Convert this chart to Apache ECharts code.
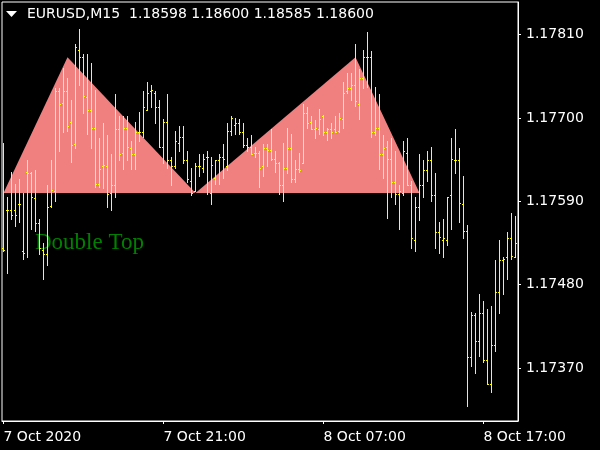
<!DOCTYPE html>
<html><head><meta charset="utf-8">
<script src="https://cdn.jsdelivr.net/npm/echarts@6/dist/echarts.min.js"></script>
<style>html,body{margin:0;padding:0;background:#000;}#c{width:600px;height:450px;}</style>
</head><body><div id="c"></div>
<script>
// OHLC of EURUSD M15 bars
const barOpen = [1.17528,1.17579,1.17578,1.17578,1.17586,1.17525,1.17629,1.17627,1.17594,1.17561,
1.17526,1.17521,1.17584,1.17604,1.17735,1.17720,1.17736,1.17694,1.17665,1.17789,
1.17781,1.17728,1.17711,1.17687,1.17613,1.17636,1.17636,1.17601,1.17611,1.17686,
1.17654,1.17687,1.17660,1.17653,1.17682,1.17682,1.17711,1.17735,1.17733,1.17714,
1.17662,1.17695,1.17645,1.17636,1.17667,1.17675,1.17644,1.17617,1.17603,1.17637,
1.17634,1.17648,1.17601,1.17621,1.17644,1.17649,1.17636,1.17683,1.17691,1.17693,
1.17681,1.17664,1.17661,1.17654,1.17654,1.17636,1.17660,1.17658,1.17646,1.17640,
1.17612,1.17634,1.17660,1.17619,1.17632,1.17641,1.17706,1.17694,1.17685,1.17686,
1.17702,1.17681,1.17685,1.17686,1.17683,1.17699,1.17735,1.17739,1.17743,1.17718,
1.17753,1.17780,1.17780,1.17681,1.17687,1.17653,1.17661,1.17646,1.17615,1.17600,
1.17601,1.17654,1.17611,1.17539,1.17582,1.17611,1.17631,1.17645,1.17598,1.17549,
1.17539,1.17539,1.17598,1.17644,1.17644,1.17587,1.17551,1.17384,1.17440,1.17405,
1.17442,1.17380,1.17349,1.17400,1.17470,1.17512,1.17516,1.17541,1.17516];
const barHigh = [1.17667,1.17596,1.17628,1.17613,1.17619,1.17601,1.17645,1.17629,1.17631,1.17566,
1.17535,1.17611,1.17645,1.17740,1.17739,1.17766,1.17753,1.17724,1.17798,1.17817,
1.17785,1.17784,1.17773,1.17737,1.17673,1.17693,1.17677,1.17652,1.17731,1.17702,
1.17702,1.17703,1.17669,1.17695,1.17708,1.17736,1.17747,1.17743,1.17736,1.17723,
1.17698,1.17732,1.17648,1.17683,1.17689,1.17690,1.17657,1.17634,1.17640,1.17652,
1.17652,1.17656,1.17649,1.17645,1.17653,1.17665,1.17693,1.17702,1.17700,1.17699,
1.17693,1.17674,1.17677,1.17662,1.17657,1.17666,1.17665,1.17686,1.17656,1.17642,
1.17667,1.17687,1.17679,1.17644,1.17654,1.17718,1.17714,1.17702,1.17697,1.17712,
1.17704,1.17687,1.17693,1.17703,1.17706,1.17747,1.17759,1.17759,1.17797,1.17764,
1.17789,1.17814,1.17788,1.17741,1.17731,1.17677,1.17670,1.17674,1.17657,1.17611,
1.17670,1.17673,1.17617,1.17596,1.17653,1.17645,1.17656,1.17661,1.17627,1.17563,
1.17566,1.17596,1.17674,1.17686,1.17660,1.17623,1.17559,1.17444,1.17443,1.17468,
1.17459,1.17448,1.17452,1.17513,1.17539,1.17517,1.17549,1.17575,1.17570];
const barLow = [1.17525,1.17495,1.17566,1.17558,1.17562,1.17514,1.17516,1.17553,1.17551,1.17521,
1.17488,1.17506,1.17582,1.17591,1.17656,1.17681,1.17683,1.17642,1.17660,1.17743,
1.17707,1.17679,1.17660,1.17609,1.17609,1.17607,1.17583,1.17578,1.17595,1.17644,
1.17633,1.17644,1.17632,1.17632,1.17670,1.17675,1.17711,1.17714,1.17693,1.17661,
1.17640,1.17634,1.17611,1.17634,1.17657,1.17640,1.17615,1.17598,1.17603,1.17623,
1.17629,1.17600,1.17587,1.17613,1.17613,1.17621,1.17631,1.17678,1.17679,1.17679,
1.17661,1.17657,1.17652,1.17648,1.17609,1.17623,1.17637,1.17645,1.17629,1.17600,
1.17591,1.17627,1.17615,1.17615,1.17629,1.17640,1.17687,1.17685,1.17673,1.17679,
1.17677,1.17671,1.17674,1.17681,1.17682,1.17687,1.17733,1.17724,1.17716,1.17699,
1.17739,1.17741,1.17675,1.17677,1.17633,1.17621,1.17568,1.17596,1.17587,1.17554,
1.17598,1.17611,1.17528,1.17525,1.17565,1.17595,1.17617,1.17591,1.17528,1.17522,
1.17517,1.17532,1.17554,1.17627,1.17562,1.17541,1.17320,1.17373,1.17363,1.17386,
1.17378,1.17349,1.17338,1.17393,1.17442,1.17468,1.17487,1.17514,1.17516];
const barClose = [1.17526,1.17578,1.17572,1.17572,1.17586,1.17522,1.17627,1.17595,1.17561,1.17528,
1.17521,1.17583,1.17605,1.17735,1.17719,1.17736,1.17690,1.17664,1.17794,1.17781,
1.17729,1.17711,1.17687,1.17613,1.17633,1.17638,1.17600,1.17611,1.17685,1.17652,
1.17687,1.17662,1.17653,1.17682,1.17682,1.17714,1.17733,1.17737,1.17714,1.17661,
1.17695,1.17645,1.17636,1.17669,1.17675,1.17644,1.17619,1.17601,1.17637,1.17636,
1.17646,1.17648,1.17638,1.17644,1.17649,1.17646,1.17683,1.17700,1.17693,1.17681,
1.17664,1.17661,1.17653,1.17654,1.17634,1.17660,1.17658,1.17646,1.17640,1.17612,
1.17634,1.17660,1.17619,1.17633,1.17631,1.17706,1.17693,1.17685,1.17687,1.17698,
1.17681,1.17685,1.17681,1.17682,1.17700,1.17733,1.17739,1.17744,1.17722,1.17753,
1.17780,1.17780,1.17681,1.17687,1.17652,1.17660,1.17646,1.17615,1.17600,1.17603,
1.17656,1.17612,1.17541,1.17583,1.17611,1.17631,1.17644,1.17598,1.17549,1.17543,
1.17541,1.17596,1.17646,1.17644,1.17588,1.17551,1.17384,1.17440,1.17405,1.17442,
1.17381,1.17349,1.17400,1.17470,1.17513,1.17514,1.17542,1.17518,1.17535];

// axis ticks
const xTickIndex = [0, 40, 80, 120];
const xTickLabels = ['7 Oct 2020', '7 Oct 21:00', '8 Oct 07:00', '8 Oct 17:00'];
const yTickValues = [1.17370, 1.17480, 1.17590, 1.17700, 1.17810];

// double top pattern: base - top - base - top - base
const patternIndex = [0, 16, 48, 88, 104];
const patternPrice = [1.17601, 1.17780, 1.17601, 1.17780, 1.17601];
const patternName = 'Double Top';
const titleText = 'EURUSD,M15  1.18598 1.18600 1.18585 1.18600';

const chart = echarts.init(document.getElementById('c'));
const barData = barOpen.map((o, i) => [i, o, barHigh[i], barLow[i], barClose[i]]);
const triData = [];
for (let k = 0; k + 2 < patternIndex.length; k += 2) {
  triData.push([patternIndex[k], patternPrice[k], patternIndex[k + 1], patternPrice[k + 1], patternIndex[k + 2], patternPrice[k + 2]]);
}
const FONT = 'DejaVu Sans';
const YEL = '#ffff00';
chart.setOption({
  backgroundColor: '#000',
  animation: false,
  title: { text: titleText, left: 27, top: 7, padding: 0,
    textStyle: { color: '#fff', fontSize: 14, fontWeight: 'normal', fontFamily: FONT } },
  graphic: [
    { type: 'polygon', shape: { points: [[6, 11], [17, 11], [11.5, 17]] }, style: { fill: '#fff' } },
    { type: 'text', left: 35, top: 231, style: { text: patternName, font: '23px "Liberation Serif"', fill: '#008000' } }
  ],
  grid: { left: 2, top: 2, right: 82, bottom: 29, show: true, borderColor: '#fff', borderWidth: 1 },
  xAxis: {
    type: 'value', min: -0.375, max: 128.625,
    axisLine: { show: true, onZero: false, lineStyle: { color: '#fff' } },
    axisTick: { show: true, customValues: xTickIndex, length: 3, lineStyle: { color: '#fff' } },
    axisLabel: { customValues: xTickIndex, formatter: v => xTickLabels[xTickIndex.indexOf(v)],
      color: '#fff', fontFamily: FONT, fontSize: 14, align: 'left', margin: 9 },
    splitLine: { show: false }
  },
  yAxis: {
    type: 'value', position: 'right', min: 1.17300, max: 1.17853,
    axisLine: { show: true, onZero: false, lineStyle: { color: '#fff' } },
    axisTick: { show: true, customValues: yTickValues, length: 3, lineStyle: { color: '#fff' } },
    axisLabel: { customValues: yTickValues, formatter: v => v.toFixed(5),
      color: '#fff', fontFamily: FONT, fontSize: 14, margin: 8, padding: [2, 0, 0, 0] },
    splitLine: { show: false }
  },
  series: [
    {
      type: 'custom', z: 1, data: triData, encode: { x: [0, 2, 4], y: [1, 3, 5] },
      renderItem: (params, api) => {
        const pts = [api.coord([api.value(0), api.value(1)]), api.coord([api.value(2), api.value(3)]), api.coord([api.value(4), api.value(5)])];
        return { type: 'polygon', shape: { points: pts }, style: { fill: '#F08080' } };
      }
    },
    {
      type: 'custom', z: 2, data: barData, encode: { x: 0, y: [1, 2, 3, 4] },
      renderItem: (params, api) => {
        const i = api.value(0);
        const pO = api.coord([i, api.value(1)]), pH = api.coord([i, api.value(2)]);
        const pL = api.coord([i, api.value(3)]), pC = api.coord([i, api.value(4)]);
        const x = Math.floor(pH[0]);
        const yH = Math.round(pH[1]), yL = Math.round(pL[1]);
        return { type: 'group', children: [
          { type: 'rect', shape: { x: x, y: yH, width: 1, height: yL - yH + 1 }, style: { fill: YEL } },
          { type: 'rect', shape: { x: x - 1, y: Math.round(pO[1]), width: 1, height: 1 }, style: { fill: YEL } },
          { type: 'rect', shape: { x: x + 1, y: Math.round(pC[1]), width: 1, height: 1 }, style: { fill: YEL } }
        ] };
      }
    }
  ]
});
</script></body></html>
